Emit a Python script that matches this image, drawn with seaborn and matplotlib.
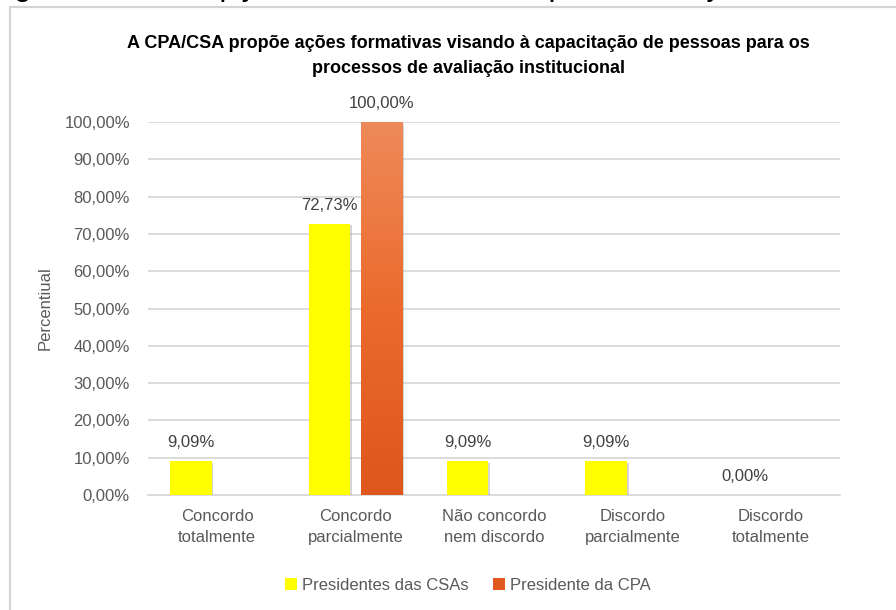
import numpy as np
import pandas as pd
import matplotlib
matplotlib.use("Agg")
import matplotlib.pyplot as plt
import seaborn as sns
from matplotlib.patches import Rectangle
from matplotlib.ticker import FuncFormatter, MultipleLocator
from matplotlib.colors import LinearSegmentedColormap
import matplotlib.patheffects as pe

# ---- data ----
categories = ["Concordo\ntotalmente", "Concordo\nparcialmente", "Não concordo\nnem discordo",
              "Discordo\nparcialmente", "Discordo\ntotalmente"]
series_names = ["Presidentes das CSAs", "Presidente da CPA"]
csa_values = [9.09, 72.73, 9.09, 9.09, 0.00]
cpa_values = [0.00, 100.00, 0.00, 0.00, 0.00]
title_text = "A CPA/CSA propõe ações formativas visando à capacitação de pessoas para os\nprocessos de avaliação institucional"
caption_text = "Figura 5 – Percepção dos CSAs e CPA quanto às ações formativas"
ylabel_text = "Percentiual"

df = pd.DataFrame({
    "categoria": categories * 2,
    "serie": [series_names[0]] * 5 + [series_names[1]] * 5,
    "valor": csa_values + cpa_values,
})

sns.set_theme(style="white")
plt.rcParams["font.family"] = ["Liberation Sans", "DejaVu Sans"]

fig = plt.figure(figsize=(8.96, 6.10), dpi=100)
fig.patch.set_facecolor("white")

# chart frame (cropped from a document)
fig.patches.append(Rectangle((10 / 896, -0.05), 1.1, 1 - 7 / 610 + 0.05,
                             transform=fig.transFigure, fill=False,
                             edgecolor="#D4D4D4", linewidth=1.6, zorder=0))
# caption above (cut off by the crop: only its lowest strokes are visible)
fig.text(-12 / 896, 1 + 4.5 / 610, caption_text, fontsize=22.5, color="black",
         ha="left", va="baseline", family=["Liberation Sans", "DejaVu Sans"])

ax = fig.add_axes([148 / 896, 1 - 495 / 610, 692 / 896, 373 / 610])

palette = {series_names[0]: "#FFFF00", series_names[1]: "#E2591F"}
sns.barplot(data=df, x="categoria", y="valor", hue="serie", order=categories,
            hue_order=series_names, palette=palette, width=0.76, gap=0.21,
            saturation=1, ax=ax, legend=True, zorder=3, linewidth=0)

ax.set_ylim(0, 100)
ax.set_xlim(-0.5, 4.5)
ax.yaxis.set_major_locator(MultipleLocator(10))
ax.yaxis.set_major_formatter(FuncFormatter(lambda v, p: f"{v:.2f}%".replace(".", ",")))
ax.grid(axis="y", color="#D9D9D9", linewidth=1.3, zorder=0)
ax.set_axisbelow(True)
for s in ["top", "right", "left"]:
    ax.spines[s].set_visible(False)
ax.spines["bottom"].set_color("#D9D9D9")
ax.spines["bottom"].set_linewidth(1.3)
ax.tick_params(axis="y", length=0, pad=13, labelsize=12, labelcolor="#595959")
ax.tick_params(axis="x", length=0, pad=10, labelsize=12, labelcolor="#595959")
for lab in ax.get_xticklabels():
    lab.set_linespacing(1.5)
ax.set_xlabel("")
ax.set_ylabel(ylabel_text, fontsize=12, color="#595959")
ax.yaxis.set_label_coords(-0.138, 0.5)

shadow = [pe.SimplePatchShadow(offset=(1.2, -1.2), shadow_rgbFace="#888888", alpha=0.35), pe.Normal()]

# gradient on CPA bars and shadows
cmap = LinearSegmentedColormap.from_list("orng", ["#DE571D", "#EB6A2C", "#EE8A5A"])
for ci, cont in enumerate(ax.containers):
    for patch in cont.patches:
        patch.set_path_effects(shadow)
        if ci == 1 and patch.get_height() > 0:
            x0 = patch.get_x(); w = patch.get_width(); h = patch.get_height()
            grad = np.linspace(0, 1, 256).reshape(-1, 1)
            im = ax.imshow(grad, extent=[x0, x0 + w, 0, h], origin="lower",
                           aspect="auto", cmap=cmap, zorder=3.5)
            im.set_clip_path(patch)
ax.set_xlim(-0.5, 4.5)
ax.set_ylim(0, 100)

# data labels
fmt = lambda v: f"{v:.2f}%".replace(".", ",")
for ci, (cont, vals) in enumerate(zip(ax.containers, [csa_values, cpa_values])):
    for patch, v in zip(cont.patches, vals):
        if ci == 1 and v == 0:
            continue
        ax.annotate(fmt(v), (patch.get_x() + patch.get_width() / 2, v),
                    xytext=(0, 8), textcoords="offset points", ha="center", va="bottom",
                    fontsize=12, color="#404040", annotation_clip=False)

# legend
handles, labels = ax.get_legend_handles_labels()
ax.legend_.remove()
fig.legend(handles, labels, loc="center", bbox_to_anchor=(468 / 896, 1 - 585 / 610), ncol=2,
           frameon=False, fontsize=12, labelcolor="#595959", handlelength=0.7,
           handleheight=0.7, handletextpad=0.3, columnspacing=1.5)

# title
fig.text(468 / 896, 1 - 56 / 610, title_text, ha="center", va="center", fontsize=13,
         fontweight="bold", color="black", linespacing=1.65,
         family=["Liberation Sans", "DejaVu Sans"])

fig.savefig("out.png", dpi=100)
